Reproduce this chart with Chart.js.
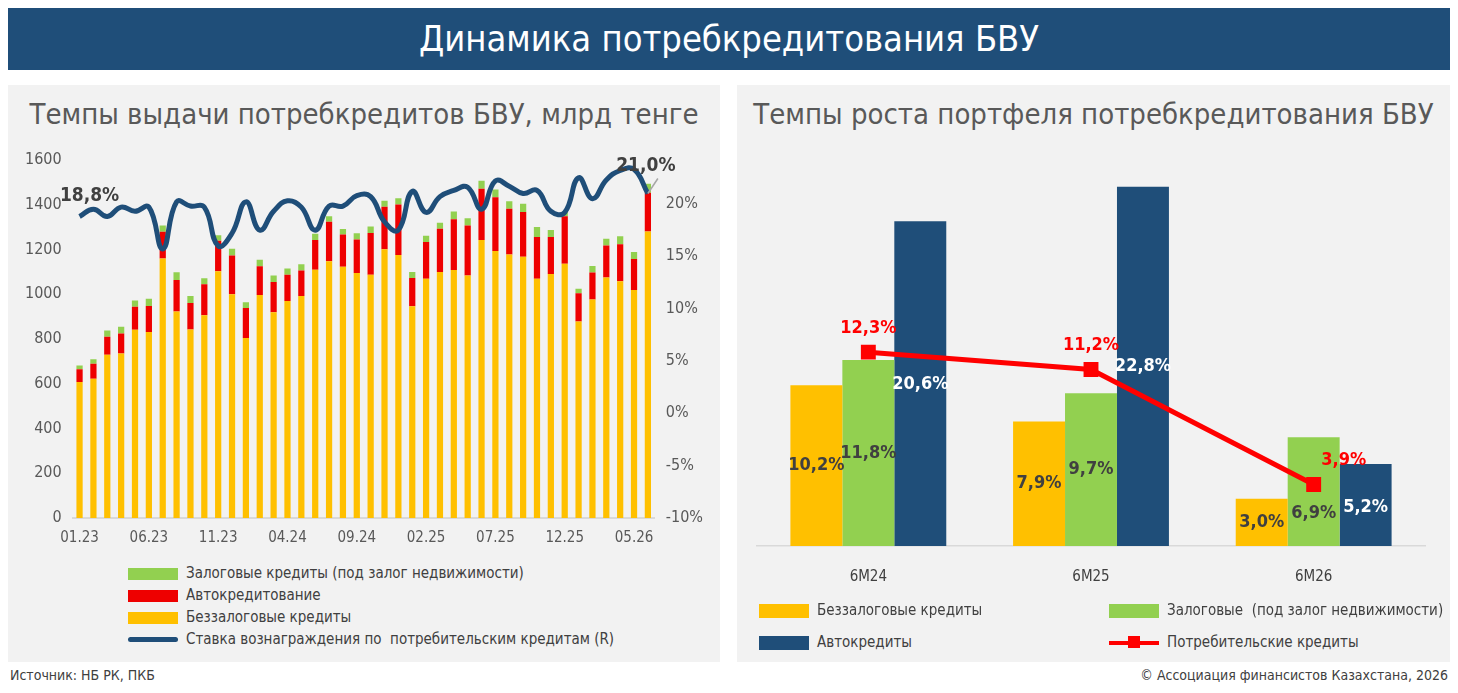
<!DOCTYPE html>
<html><head><meta charset="utf-8">
<script src="https://cdn.jsdelivr.net/npm/chart.js@4/dist/chart.umd.min.js"></script>
<style>
body{margin:0;width:1458px;height:693px;background:#fff;font-family:"DejaVu Sans Condensed","Roboto",sans-serif;position:relative;overflow:hidden}
.head{position:absolute;left:8px;top:8px;width:1442px;height:62px;background:#1F4E79;color:#fff;font-size:36px;text-align:center;line-height:62px}
.panel{position:absolute;top:85px;height:577px;background:#f2f2f2}
.ttl{position:absolute;top:12px;left:0;right:0;text-align:center;color:#595959;font-size:29px;white-space:nowrap}
.cv{position:absolute}
.lg{position:absolute;font-size:15px;color:#404040}
.lg div{height:22px;line-height:22px;white-space:nowrap}
.sw{display:inline-block;vertical-align:middle;margin-right:8px}
.foot{position:absolute;top:667px;font-size:14px;color:#404040}
</style></head><body>
<div class="head">Динамика потребкредитования БВУ</div>
<div class="panel" style="left:8px;width:712px">
  <div class="ttl">Темпы выдачи потребкредитов БВУ, млрд тенге</div>
  <div class="cv" style="left:0;top:55px;width:712px;height:410px"><canvas id="c1"></canvas></div>
  <div class="lg" style="left:120px;top:477px">
    <div><span class="sw" style="width:50px;height:12px;background:#92D050"></span>Залоговые кредиты (под залог недвижимости)</div>
    <div><span class="sw" style="width:50px;height:12px;background:#EE0000"></span>Автокредитование</div>
    <div><span class="sw" style="width:50px;height:12px;background:#FFC000"></span>Беззалоговые кредиты</div>
    <div><span class="sw" style="width:50px;height:5px;background:#1F4E79;border-radius:3px"></span>Ставка вознаграждения по &nbsp;потребительским кредитам (R)</div>
  </div>
</div>
<div class="panel" style="left:737px;width:713px">
  <div class="ttl">Темпы роста портфеля потребкредитования БВУ</div>
  <div class="cv" style="left:0;top:55px;width:713px;height:460px"><canvas id="c2"></canvas></div>
  <div class="lg" style="left:22px;top:514px;width:690px">
    <div style="position:absolute;left:0;top:0"><span class="sw" style="width:50px;height:14px;background:#FFC000"></span>Беззалоговые кредиты</div>
    <div style="position:absolute;left:350px;top:0"><span class="sw" style="width:50px;height:14px;background:#92D050"></span>Залоговые &nbsp;(под залог недвижимости)</div>
    <div style="position:absolute;left:0;top:32px"><span class="sw" style="width:50px;height:14px;background:#1F4E79"></span>Автокредиты</div>
    <div style="position:absolute;left:350px;top:32px"><span class="sw" style="width:50px;height:4px;background:#FF0000;position:relative"><i style="position:absolute;left:19px;top:-5px;width:12px;height:12px;background:#FF0000"></i></span>Потребительские кредиты</div>
  </div>
</div>
<div class="foot" style="left:10px">Источник: НБ РК, ПКБ</div>
<div class="foot" style="right:10px">© Ассоциация финансистов Казахстана, 2026</div>
<script>
const FONT = '"DejaVu Sans Condensed", Roboto, sans-serif';
Chart.defaults.font.family = FONT;
Chart.defaults.color = '#595959';

// помесячные выдачи, млрд тенге
const months = [];
for (let y = 23; y <= 26; y++) for (let m = 1; m <= 12; m++) {
  if (y === 26 && m > 6) break;
  months.push(String(m).padStart(2, '0') + '.' + y);
}
const unsecured = [608,622,730,735,841,831,1160,923,842,906,1103,1000,805,997,920,970,992,1109,1147,1123,1095,1087,
  1201,1175,946,1069,1100,1108,1084,1242,1193,1178,1168,1069,1090,1136,878,976,1075,1058,1019,1281];
const autoTot = [665,689,810,825,944,947,1279,1064,961,1045,1239,1173,938,1125,1055,1087,1106,1242,1324,1267,1245,1274,
  1391,1401,1073,1234,1293,1335,1307,1472,1433,1382,1368,1256,1256,1349,1005,1097,1218,1223,1158,1454];
const allTot = [682,710,838,855,972,980,1307,1098,992,1072,1264,1203,964,1154,1084,1115,1134,1270,1349,1292,1273,1303,
  1418,1429,1100,1262,1320,1370,1340,1507,1468,1416,1404,1301,1287,1368,1025,1126,1248,1259,1189,1494];
const auto = autoTot.map((v, i) => v - unsecured[i]);
const secured = allTot.map((v, i) => v - autoTot[i]);
const rate = [18.8,19.5,18.8,19.7,19.3,19.7,15.7,20.2,19.8,19.7,16.0,17.2,20.2,17.5,19.3,20.3,19.7,17.5,19.8,19.8,20.8,20.7,
  18.3,17.5,21.2,19.2,20.7,21.3,21.6,19.5,22.2,21.7,21.0,21.3,19.3,19.2,22.5,20.5,22.3,23.2,23.3,21.0];

const rateLabels = {
  id: 'rateLabels',
  afterDatasetsDraw(chart) {
    const ctx = chart.ctx, m = chart.getDatasetMeta(3).data;
    ctx.save();
    ctx.font = 'bold 19px ' + FONT;
    ctx.fillStyle = '#404040';
    ctx.textAlign = 'center';
    ctx.fillText('18,8%', m[0].x + 10, m[0].y - 16);
    const p = m[m.length - 1];
    ctx.strokeStyle = '#a6a6a6'; ctx.lineWidth = 1.5;
    ctx.beginPath(); ctx.moveTo(p.x, p.y); ctx.lineTo(p.x + 10, p.y - 15); ctx.stroke();
    ctx.fillText('21,0%', p.x - 2, p.y - 22);
    ctx.restore();
  }
};

new Chart(document.getElementById('c1'), {
  data: {
    labels: months,
    datasets: [
      { type: 'bar', label: 'Беззалоговые кредиты', data: unsecured, backgroundColor: '#FFC000', stack: 's', yAxisID: 'y', order: 2 },
      { type: 'bar', label: 'Автокредитование', data: auto, backgroundColor: '#EE0000', stack: 's', yAxisID: 'y', order: 2 },
      { type: 'bar', label: 'Залоговые кредиты', data: secured, backgroundColor: '#92D050', stack: 's', yAxisID: 'y', order: 2 },
      { type: 'line', label: 'Ставка', data: rate, borderColor: '#1F4E79', borderWidth: 5, tension: 0.45,
        pointRadius: 0, yAxisID: 'y1', order: 1 }
    ]
  },
  options: {
    responsive: true, maintainAspectRatio: false, animation: false,
    layout: { padding: { left: 14, right: 14, top: 20 } },
    datasets: { bar: { barPercentage: 0.45, categoryPercentage: 1 } },
    plugins: { legend: { display: false }, tooltip: { enabled: false } },
    scales: {
      x: { stacked: true, grid: { display: false }, border: { color: '#d9d9d9', width: 2 },
        ticks: { autoSkip: false, maxRotation: 0, font: { size: 15 },
          callback(v, i) { return i % 5 === 0 ? months[i] : ''; } } },
      y: { stacked: true, min: 0, max: 1600, grid: { display: false }, border: { display: false },
        ticks: { stepSize: 200, font: { size: 16 }, callback: v => String(v) } },
      y1: { position: 'right', min: -10, max: 24.2, grid: { display: false }, border: { display: false },
        afterBuildTicks(s) { s.ticks = [-10,-5,0,5,10,15,20].map(v => ({ value: v })); },
        ticks: { font: { size: 16 }, callback: v => v + '%' } }
    }
  },
  plugins: [rateLabels]
});

// приросты портфеля, %
const growth = {
  labels: ['6M24', '6M25', '6M26'],
  unsecured: [10.2, 7.9, 3.0],
  secured: [11.8, 9.7, 6.9],
  auto: [20.6, 22.8, 5.2],
  total: [12.3, 11.2, 3.9]
};
const fmt = v => v.toFixed(1).replace('.', ',') + '%';

const valueLabels = {
  id: 'valueLabels',
  afterDatasetsDraw(chart) {
    const ctx = chart.ctx;
    ctx.save();
    ctx.font = 'bold 18px ' + FONT;
    ctx.textAlign = 'center'; ctx.textBaseline = 'middle';
    const base = chart.scales.y.getPixelForValue(0);
    [0, 1, 2].forEach(d => {
      const ds = chart.data.datasets[d];
      chart.getDatasetMeta(d).data.forEach((b, i) => {
        ctx.fillStyle = d === 2 ? '#ffffff' : '#404040';
        let y = (b.y + base) / 2;
        if (d === 2 && i < 2) y = b.y + 163 + (i === 1 ? 17 : 0);
        if (d === 2 && i === 2) y = (b.y + base) / 2 + 2;
        if (d === 1 && i === 2) y = (b.y + base) / 2 + 22;
        ctx.fillText(fmt(ds.data[i]), b.x, y);
      });
    });
    ctx.fillStyle = '#FF0000';
    chart.getDatasetMeta(3).data.forEach((p, i) => {
      const dx = i === 2 ? 30 : 0;
      ctx.fillText(fmt(chart.data.datasets[3].data[i]), p.x + dx, p.y - 24);
    });
    ctx.restore();
  }
};

new Chart(document.getElementById('c2'), {
  data: {
    labels: growth.labels,
    datasets: [
      { type: 'bar', label: 'Беззалоговые кредиты', data: growth.unsecured, backgroundColor: '#FFC000', order: 2 },
      { type: 'bar', label: 'Залоговые', data: growth.secured, backgroundColor: '#92D050', order: 2 },
      { type: 'bar', label: 'Автокредиты', data: growth.auto, backgroundColor: '#1F4E79', order: 2 },
      { type: 'line', label: 'Потребительские кредиты', data: growth.total, borderColor: '#FF0000', borderWidth: 5,
        pointStyle: 'rect', pointRadius: 7, pointBackgroundColor: '#FF0000', pointBorderColor: '#FF0000', order: 1 }
    ]
  },
  options: {
    responsive: true, maintainAspectRatio: false, animation: false,
    layout: { padding: { left: 20, right: 25, top: 0 } },
    datasets: { bar: { barPercentage: 1, categoryPercentage: 0.7 } },
    plugins: { legend: { display: false }, tooltip: { enabled: false } },
    scales: {
      x: { grid: { display: false }, border: { color: '#d9d9d9', width: 1.5 },
        ticks: { font: { size: 15 }, color: '#404040', padding: 14 } },
      y: { display: false, min: 0, max: 25 }
    }
  },
  plugins: [valueLabels]
});
</script>
</body></html>
